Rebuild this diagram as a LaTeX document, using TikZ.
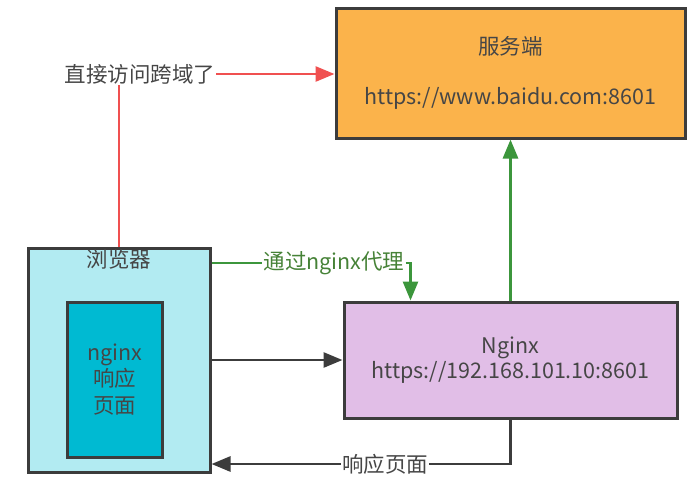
\documentclass[tikz,border=0pt]{standalone}
\usepackage{fontspec}
\setmainfont{Noto Sans CJK SC}
\usetikzlibrary{arrows.meta,positioning,calc}

\definecolor{srvfill}{RGB}{251,179,75}
\definecolor{brwfill}{RGB}{178,235,242}
\definecolor{pagefill}{RGB}{0,186,210}
\definecolor{ngxfill}{RGB}{225,190,231}
\definecolor{boxline}{RGB}{60,60,60}
\definecolor{txtgray}{RGB}{70,70,70}
\definecolor{redline}{RGB}{240,80,80}
\definecolor{greenline}{RGB}{60,150,60}
\definecolor{greentxt}{RGB}{70,130,55}

\begin{document}
\begin{tikzpicture}[x=1pt,y=-1pt,
    boxnode/.style={draw=boxline,line width=3pt,inner sep=0pt,text=txtgray,align=center},
    txt/.style={text=txtgray,inner sep=1pt,font=\fontsize{21.5}{25}\selectfont},
    redarrow/.style={draw=redline,line width=2.8pt},
    greenarrow/.style={draw=greenline,line width=2.8pt},
    blackarrow/.style={draw=boxline,line width=2.8pt},
    tip/.style={-{Triangle[length=19pt,width=15pt]}}]

  %% Canvas
  \useasboundingbox (0,0) rectangle (698,488);

  %% Boxes
  \node[boxnode,fill=srvfill,minimum width=349pt,minimum height=130pt,
        font=\fontsize{21.5}{50}\selectfont] (server) at (510.5,73)
        {服务端\\https://www.baidu.com:8601};
  \node[boxnode,fill=ngxfill,minimum width=333pt,minimum height=116pt,
        font=\fontsize{21.5}{25}\selectfont] (nginx) at (510.5,360)
        {Nginx\\https://192.168.101.10:8601};
  \node[boxnode,fill=brwfill,minimum width=182pt,minimum height=224pt] (browser) at (119,360) {};
  \node[txt,below=2pt of browser.north] (browsertitle) {浏览器};
  \node[boxnode,fill=pagefill,minimum width=95pt,minimum height=155pt,
        font=\fontsize{21.5}{26.5}\selectfont] (page) at (114.5,379.5)
        {nginx\\响应\\页面};

  %% Labels on the connectors
  \node[txt] (direct) at (140,74) {直接访问跨域了};
  \node[txt,text=greentxt] (proxy) at (334,263) {通过nginx代理};
  \node[txt,fill=white] (resp) at (385,464) {响应页面};
  \coordinate (proxyin) at ($(nginx.north west)+(68,0)$);

  %% Direct request
  \draw[redarrow] (browser.north) -- (browser.north |- direct.south);
  \draw[redarrow,tip] (direct.east) -- (server.west |- direct);

  %% Through the proxy
  \draw[greenarrow] (browser.east |- proxy) -- (proxy.west);
  \draw[greenarrow,tip] (proxy.east) -| (proxyin);
  \draw[greenarrow,tip] (nginx.north) -- (server.south);

  %% Page request and response
  \draw[blackarrow,tip] (browser.east) -- (nginx.west);
  \draw[blackarrow] (nginx.south) |- (resp.east);
  \draw[blackarrow,tip] (resp.west) -- (browser.east |- resp);

\end{tikzpicture}
\end{document}
